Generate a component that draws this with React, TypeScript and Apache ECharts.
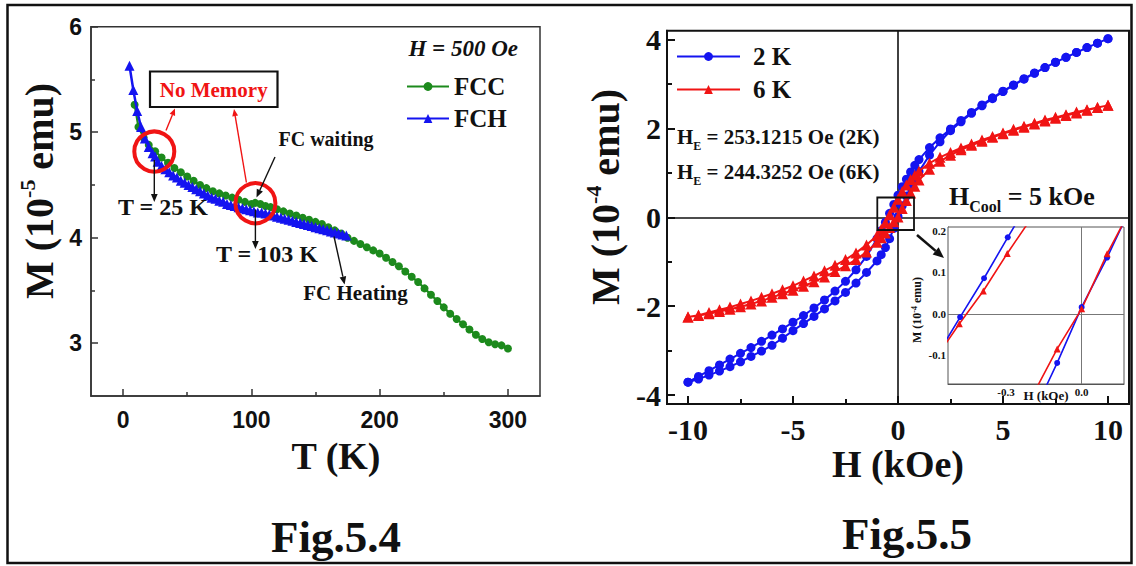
import React, { useEffect, useRef } from 'react';
import * as echarts from 'echarts';

// ---------- Fig.5.4 : M vs T ----------
const fccT = [9, 12, 16, 20, 25, 30, 35, 40, 45, 50, 55, 60, 65, 70, 75, 80, 85, 90, 95, 100, 103, 107, 111, 115, 120, 125, 130, 135, 140, 145, 150, 155, 160, 165, 170, 175, 180, 185, 190, 195, 200, 205, 210, 215, 220, 225, 230, 235, 240, 245, 250, 255, 260, 265, 270, 275, 280, 285, 290, 295, 300];
const fccM = [5.26, 5.05, 4.95, 4.88, 4.82, 4.76, 4.71, 4.66, 4.62, 4.58, 4.54, 4.5, 4.47, 4.44, 4.42, 4.4, 4.38, 4.36, 4.34, 4.32, 4.33, 4.32, 4.3, 4.29, 4.27, 4.25, 4.23, 4.21, 4.19, 4.17, 4.15, 4.13, 4.1, 4.07, 4.04, 4.0, 3.97, 3.94, 3.91, 3.88, 3.85, 3.81, 3.77, 3.73, 3.68, 3.63, 3.58, 3.52, 3.46, 3.4, 3.34, 3.28, 3.23, 3.18, 3.13, 3.08, 3.04, 3.01, 2.99, 2.98, 2.95];
const fchT = [5, 8, 11, 14, 17, 20, 23, 25, 27, 30, 33, 36, 39, 42, 45, 48, 51, 54, 57, 60, 63, 66, 69, 72, 75, 78, 81, 84, 87, 90, 93, 96, 99, 102, 105, 108, 111, 114, 117, 120, 123, 126, 129, 132, 135, 138, 141, 144, 147, 150, 153, 156, 159, 162, 165, 168, 171, 174];
const fchM = [5.63, 5.4, 5.2, 5.05, 4.94, 4.86, 4.8, 4.77, 4.72, 4.68, 4.65, 4.62, 4.59, 4.57, 4.54, 4.52, 4.5, 4.48, 4.46, 4.44, 4.42, 4.4, 4.38, 4.37, 4.35, 4.34, 4.32, 4.31, 4.3, 4.29, 4.28, 4.27, 4.26, 4.25, 4.24, 4.24, 4.23, 4.22, 4.21, 4.2, 4.19, 4.18, 4.17, 4.16, 4.15, 4.14, 4.13, 4.12, 4.11, 4.1, 4.09, 4.08, 4.07, 4.06, 4.05, 4.04, 4.03, 4.02];

// ---------- Fig.5.5 : M vs H loops ----------
const hDesc = [10, 9.5, 9, 8.5, 8, 7.5, 7, 6.5, 6, 5.5, 5, 4.5, 4, 3.5, 3, 2.5, 2, 1.5, 1, 0.8, 0.6, 0.4, 0.2, 0, -0.2, -0.4, -0.6, -0.8, -1, -1.5, -2, -2.5, -3, -3.5, -4, -4.5, -5, -5.5, -6, -6.5, -7, -7.5, -8, -8.5, -9, -9.5, -10];
const m2KDesc = [4.02, 3.92, 3.82, 3.71, 3.6, 3.49, 3.37, 3.25, 3.12, 2.98, 2.84, 2.69, 2.53, 2.36, 2.18, 1.99, 1.79, 1.57, 1.3, 1.17, 1.02, 0.86, 0.69, 0.5, 0.29, 0.09, -0.11, -0.3, -0.48, -0.88, -1.18, -1.44, -1.66, -1.86, -2.04, -2.21, -2.36, -2.51, -2.65, -2.79, -2.93, -3.06, -3.19, -3.32, -3.45, -3.58, -3.71];
const m6KDesc = [2.52, 2.47, 2.42, 2.37, 2.31, 2.25, 2.19, 2.12, 2.05, 1.98, 1.9, 1.82, 1.74, 1.65, 1.56, 1.46, 1.35, 1.22, 1.04, 0.95, 0.85, 0.73, 0.58, 0.41, 0.23, 0.06, -0.12, -0.27, -0.41, -0.62, -0.8, -0.95, -1.08, -1.2, -1.32, -1.43, -1.54, -1.63, -1.72, -1.8, -1.88, -1.95, -2.02, -2.08, -2.14, -2.2, -2.24];
const hAsc = [-10, -9.5, -9, -8.5, -8, -7.5, -7, -6.5, -6, -5.5, -5, -4.5, -4, -3.5, -3, -2.5, -2, -1.5, -1, -0.8, -0.6, -0.4, -0.2, 0, 0.2, 0.4, 0.6, 0.8, 1, 1.5, 2, 2.5, 3, 3.5, 4, 4.5, 5, 5.5, 6, 6.5, 7, 7.5, 8, 8.5, 9, 9.5, 10];
const m2KAsc = [-3.71, -3.64, -3.55, -3.46, -3.36, -3.25, -3.13, -3.01, -2.88, -2.72, -2.55, -2.39, -2.23, -2.06, -1.88, -1.69, -1.48, -1.24, -0.98, -0.84, -0.68, -0.48, -0.25, 0.02, 0.26, 0.48, 0.68, 0.86, 1.03, 1.4, 1.7, 1.95, 2.15, 2.34, 2.51, 2.67, 2.83, 2.97, 3.11, 3.24, 3.37, 3.49, 3.6, 3.71, 3.82, 3.92, 4.02];
const m6KAsc = [-2.24, -2.21, -2.17, -2.12, -2.07, -2.01, -1.95, -1.88, -1.8, -1.72, -1.64, -1.55, -1.45, -1.34, -1.22, -1.09, -0.95, -0.78, -0.56, -0.46, -0.35, -0.23, -0.1, 0.01, 0.2, 0.38, 0.55, 0.7, 0.84, 1.08, 1.26, 1.4, 1.52, 1.62, 1.71, 1.8, 1.88, 1.96, 2.03, 2.1, 2.17, 2.23, 2.29, 2.35, 2.41, 2.47, 2.52];

// ---------- inset (zoom of the loop centre) ----------
const insetH2KLeft = [-0.6, -0.482, -0.387, -0.293, -0.2];
const insetM2KLeft = [-0.128, -0.008, 0.086, 0.185, 0.28];
const insetH6KLeft = [-0.6, -0.485, -0.39, -0.295, -0.18];
const insetM6KLeft = [-0.127, -0.024, 0.055, 0.146, 0.249];
const insetH2KRight = [-0.2, -0.097, 0.0, 0.101, 0.2];
const insetM2KRight = [-0.252, -0.119, 0.016, 0.136, 0.264];
const insetH6KRight = [-0.25, -0.097, 0.0, 0.101, 0.2];
const insetM6KRight = [-0.262, -0.085, 0.012, 0.145, 0.26];

// ---------- ticks ----------
const leftXMajor = [0, 100, 200, 300];
const leftXMinor = [50, 150, 250];
const leftYMajor = [3, 4, 5, 6];
const leftYMinor = [3.5, 4.5, 5.5];
const rightXMajor = [-10, -5, 0, 5, 10];
const rightXMinor = [-7.5, -2.5, 2.5, 7.5];
const rightYMajor = [-4, -2, 0, 2, 4];
const rightYMinor = [-3, -1, 1, 3];
const insetXLabels = [-0.3, 0];
const insetYLabels = [-0.1, 0, 0.1, 0.2];

const GREEN = '#1c8a1c';
const BLUE = '#1414f0';
const RED = '#f01414';
const SERIF = 'Liberation Serif';
const SANS = 'Liberation Sans';

const zip = (a: number[], b: number[]) => a.map((v, i) => [v, b[i]]);

function axis(o: any) {
  const { gridIndex, min, max, position, ticks, labels, len, font, size, color, lineW, margin, fmt, showLine } = o;
  return {
    type: 'value', gridIndex, min, max, position, offset: 0,
    axisLine: { show: showLine !== false, onZero: false, lineStyle: { color, width: lineW } },
    axisTick: { show: true, inside: true, length: len, customValues: ticks, lineStyle: { color, width: lineW } },
    axisLabel: labels
      ? { show: true, customValues: labels, margin, formatter: fmt || ((v: number) => String(v)), fontFamily: font, fontWeight: 'bold', fontSize: size, color: '#111' }
      : { show: false },
    splitLine: { show: false },
  };
}

function arrow(x1: number, y1: number, x2: number, y2: number, color: string, w: number, head: number) {
  const a = Math.atan2(y2 - y1, x2 - x1);
  const hx = x2 - head * Math.cos(a);
  const hy = y2 - head * Math.sin(a);
  const px = Math.sin(a) * head * 0.42;
  const py = -Math.cos(a) * head * 0.42;
  return [
    { type: 'line', z: 100, shape: { x1, y1, x2: hx, y2: hy }, style: { stroke: color, lineWidth: w } },
    { type: 'polygon', z: 100, shape: { points: [[x2, y2], [hx + px, hy + py], [hx - px, hy - py]] }, style: { fill: color } },
  ];
}

function txt(x: number, y: number, text: string, size: number, opts: any = {}) {
  return {
    type: 'text', z: 100, x, y, rotation: opts.rotation || 0,
    style: {
      text, fill: opts.color || '#111',
      fontFamily: opts.family || SERIF, fontWeight: 'bold', fontStyle: opts.italic ? 'italic' : 'normal', fontSize: size,
      align: opts.align || 'center', textAlign: opts.align || 'center',
      verticalAlign: 'middle', textVerticalAlign: 'middle',
      rich: opts.rich,
    },
  };
}

function richName(size: number, sup: number) {
  return {
    a: { fontFamily: SERIF, fontWeight: 'bold', fontSize: size, fill: '#111', lineHeight: size * 1.15, verticalAlign: 'middle' },
    s: { fontFamily: SERIF, fontWeight: 'bold', fontSize: sup, fill: '#111', lineHeight: size * 1.15, verticalAlign: 'top' },
  };
}
function richSub(size: number, sub: number) {
  return {
    a: { fontFamily: SERIF, fontWeight: 'bold', fontSize: size, fill: '#111', lineHeight: size * 1.45, verticalAlign: 'middle' },
    b: { fontFamily: SERIF, fontWeight: 'bold', fontSize: sub, fill: '#111', lineHeight: size * 1.45, verticalAlign: 'bottom' },
  };
}

function insetSeries(name: string, h: number[], m: number[], color: string, symbol: string, size: number, extra: any = {}) {
  return {
    name, type: 'line', xAxisIndex: 4, yAxisIndex: 4, clip: true, z: 5,
    data: h.map((v, i) => ({ value: [v, m[i]], symbol: i === 0 || i === h.length - 1 ? 'none' : symbol })),
    symbol, symbolSize: size, showSymbol: true,
    itemStyle: { color }, lineStyle: { color, width: 1.6 },
    emphasis: { disabled: true }, silent: true,
    ...extra,
  };
}

export default function App() {
  const ref = useRef<HTMLDivElement>(null);
  useEffect(() => {
    if (!ref.current) return;
    const chart = echarts.init(ref.current, null, { renderer: 'svg' });
    const dark = '#333';
    const option: any = {
      animation: false,
      backgroundColor: '#fff',
      grid: [
        { left: 91, top: 26.7, width: 449, height: 369.3, show: true, borderColor: dark, borderWidth: 1.5, backgroundColor: 'transparent', containLabel: false, outerBoundsMode: 'none' },
        { left: 667, top: 30.7, width: 462, height: 373.3, show: true, borderColor: '#111', borderWidth: 2, backgroundColor: 'transparent', containLabel: false, outerBoundsMode: 'none' },
        { left: 948, top: 227, width: 176, height: 157, show: true, borderColor: '#555', borderWidth: 1, backgroundColor: '#fff', containLabel: false, outerBoundsMode: 'none', z: 4 },
      ],
      xAxis: [
        axis({ gridIndex: 0, min: -25, max: 325, position: 'bottom', ticks: leftXMajor, labels: leftXMajor, len: 7, font: SANS, size: 23, color: dark, lineW: 1.5, margin: 12 }),
        axis({ gridIndex: 0, min: -25, max: 325, position: 'bottom', ticks: leftXMinor, len: 4, color: dark, lineW: 1.5, showLine: false }),
        axis({ gridIndex: 1, min: -11, max: 11, position: 'bottom', ticks: rightXMajor, labels: rightXMajor, len: 8, font: SERIF, size: 30, color: '#111', lineW: 2, margin: 10 }),
        axis({ gridIndex: 1, min: -11, max: 11, position: 'bottom', ticks: rightXMinor, len: 5, color: '#111', lineW: 2, showLine: false }),
        axis({ gridIndex: 2, min: -0.53, max: 0.168, position: 'bottom', ticks: insetXLabels, labels: insetXLabels, len: 3, font: SERIF, size: 11, color: '#555', lineW: 1, margin: 2, fmt: (v: number) => v.toFixed(1) }),
      ],
      yAxis: [
        axis({ gridIndex: 0, min: 2.5, max: 6, position: 'left', ticks: leftYMajor, labels: leftYMajor, len: 7, font: SANS, size: 23, color: dark, lineW: 1.5, margin: 9 }),
        axis({ gridIndex: 0, min: 2.5, max: 6, position: 'left', ticks: leftYMinor, len: 4, color: dark, lineW: 1.5, showLine: false }),
        axis({ gridIndex: 1, min: -4.2, max: 4.2, position: 'left', ticks: rightYMajor, labels: rightYMajor, len: 8, font: SERIF, size: 30, color: '#111', lineW: 2, margin: 6 }),
        axis({ gridIndex: 1, min: -4.2, max: 4.2, position: 'left', ticks: rightYMinor, len: 5, color: '#111', lineW: 2, showLine: false }),
        axis({ gridIndex: 2, min: -0.17, max: 0.21, position: 'left', ticks: insetYLabels, labels: insetYLabels, len: 3, font: SERIF, size: 11, color: '#555', lineW: 1, margin: 2, fmt: (v: number) => v.toFixed(1) }),
      ],
      legend: [
        {
          data: ['FCC', 'FCH'], left: 406, top: 74, orient: 'vertical', padding: 0, itemWidth: 42, itemHeight: 11, itemGap: 7,
          selectedMode: false, textStyle: { fontFamily: SERIF, fontWeight: 'bold', fontSize: 25, color: '#111' },
        },
        {
          data: ['2 K', '6 K'], left: 676, top: 44, orient: 'vertical', padding: 0, itemWidth: 63, itemHeight: 11, itemGap: 8,
          selectedMode: false, textStyle: { fontFamily: SERIF, fontWeight: 'bold', fontSize: 25, color: '#111', padding: [0, 0, 0, 8] },
        },
      ],
      series: [
        {
          name: 'FCC', type: 'line', xAxisIndex: 0, yAxisIndex: 0, data: zip(fccT, fccM), z: 2,
          symbol: 'circle', symbolSize: 8, itemStyle: { color: GREEN }, lineStyle: { color: GREEN, width: 2.2 }, emphasis: { disabled: true },
        },
        {
          name: 'FCH', type: 'line', xAxisIndex: 0, yAxisIndex: 0, data: zip(fchT, fchM), z: 3,
          symbol: 'triangle', symbolSize: 10, itemStyle: { color: BLUE }, lineStyle: { color: BLUE, width: 2.5 }, emphasis: { disabled: true },
        },
        {
          name: '2 K', type: 'line', xAxisIndex: 2, yAxisIndex: 2, z: 2,
          data: [...zip(hDesc, m2KDesc), ...zip(hAsc, m2KAsc)],
          symbol: 'circle', symbolSize: 9, itemStyle: { color: BLUE }, lineStyle: { color: BLUE, width: 2 }, emphasis: { disabled: true },
          markLine: {
            silent: true, symbol: 'none', label: { show: false }, z: 1,
            lineStyle: { color: '#111', width: 1.6, type: 'solid' },
            data: [{ xAxis: 0 }, { yAxis: 0 }],
          },
        },
        {
          name: '6 K', type: 'line', xAxisIndex: 2, yAxisIndex: 2, z: 3,
          data: [...zip(hDesc, m6KDesc), ...zip(hAsc, m6KAsc)],
          symbol: 'triangle', symbolSize: 11, itemStyle: { color: RED }, lineStyle: { color: RED, width: 2 }, emphasis: { disabled: true },
        },
        insetSeries('inset 2K desc', insetH2KLeft, insetM2KLeft, BLUE, 'circle', 6, {
          markLine: {
            silent: true, symbol: 'none', label: { show: false },
            lineStyle: { color: '#777', width: 1, type: 'solid' },
            data: [{ xAxis: 0 }, { yAxis: 0 }],
          },
        }),
        insetSeries('inset 6K desc', insetH6KLeft, insetM6KLeft, RED, 'triangle', 7),
        insetSeries('inset 2K asc', insetH2KRight, insetM2KRight, BLUE, 'circle', 6),
        insetSeries('inset 6K asc', insetH6KRight, insetM6KRight, RED, 'triangle', 7),
      ],
      graphic: [
        // outer frame
        { type: 'rect', z: 100, shape: { x: 7.5, y: 5, width: 1124, height: 558 }, style: { fill: 'none', stroke: '#111', lineWidth: 2.5 } },
        // ---- left panel ----
        txt(39, 191, '{a|M (10}{s|-5}{a| emu)}', 40, { rotation: Math.PI / 2, rich: richName(40, 22) }),
        txt(336, 456, 'T (K)', 38),
        txt(518, 48, 'H = 500 Oe', 23, { italic: true, align: 'right' }),
        { type: 'rect', z: 100, shape: { x: 150, y: 71.5, width: 127.5, height: 35.5 }, style: { fill: '#fff', stroke: '#111', lineWidth: 2.2 } },
        txt(213.7, 89.5, 'No Memory', 21, { color: RED }),
        { type: 'circle', z: 100, shape: { cx: 154.3, cy: 151.6, r: 20 }, style: { fill: 'none', stroke: RED, lineWidth: 4 } },
        { type: 'circle', z: 100, shape: { cx: 255.4, cy: 203.2, r: 20 }, style: { fill: 'none', stroke: RED, lineWidth: 4 } },
        ...arrow(166, 130.5, 175, 108.5, RED, 1.4, 7),
        ...arrow(246.4, 182.5, 234, 109, RED, 1.4, 7),
        ...arrow(154.3, 160, 154.3, 202, '#111', 1.4, 8),
        ...arrow(255.4, 209.5, 255.4, 249, '#111', 1.4, 8),
        ...arrow(275, 157, 256.5, 197.5, '#111', 1.4, 8),
        ...arrow(334, 236.5, 344.6, 284.5, '#111', 1.4, 8),
        txt(163, 207, 'T = 25 K', 24),
        txt(267, 254, 'T = 103 K', 24),
        txt(326, 139, 'FC waiting', 20),
        txt(355.5, 293, 'FC Heating', 21),
        txt(336, 537, 'Fig.5.4', 45),
        // ---- right panel ----
        txt(605, 197, '{a|M (10}{s|-4}{a| emu)}', 40, { rotation: Math.PI / 2, rich: richName(40, 22) }),
        txt(898, 464, 'H (kOe)', 38),
        txt(677, 137, '{a|H}{b|E}{a| = 253.1215 Oe (2K)}', 21, { align: 'left', rich: richSub(21, 12) }),
        txt(677, 172, '{a|H}{b|E}{a| = 244.3252 Oe (6K)}', 21, { align: 'left', rich: richSub(21, 12) }),
        txt(949, 196, '{a|H}{b|Cool}{a| = 5 kOe}', 26, { align: 'left', rich: richSub(26, 16) }),
        { type: 'rect', z: 100, shape: { x: 877.3, y: 197.5, width: 36.7, height: 32.5 }, style: { fill: 'none', stroke: '#111', lineWidth: 1.8 } },
        ...arrow(917, 235, 944, 258, '#111', 2.6, 11),
        txt(1046, 395, 'H (kOe)', 13),
        txt(917, 310, '{a|M (10}{s|-4}{a| emu)}', 12, { rotation: Math.PI / 2, rich: richName(12, 8) }),
        txt(907, 534, 'Fig.5.5', 45),
      ],
    };
    chart.setOption(option);
    return () => chart.dispose();
  }, []);
  return <div ref={ref} style={{ position: 'absolute', left: 0, top: 0, width: 1136, height: 566, background: '#fff' }} />;
}
